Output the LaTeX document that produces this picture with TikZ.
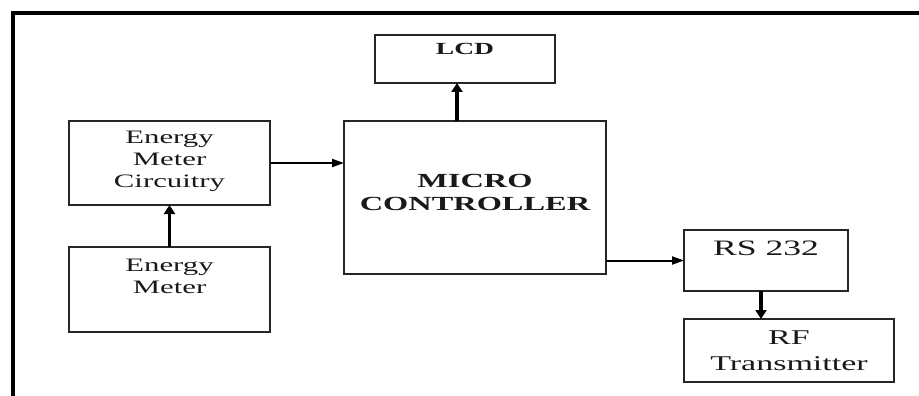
\documentclass[tikz,border=0pt]{standalone}
\usepackage{fontspec}
\setmainfont{Liberation Serif}[FakeStretch=1.62]
\usetikzlibrary{arrows.meta}
\tikzset{
  box/.style={draw=black!85, line width=1.8pt, inner sep=0pt, outer sep=0pt, anchor=north west},
  txt/.style={anchor=base, inner sep=0pt, outer sep=0pt, text=black!90},
  thickarr/.style={line width=3.5pt, -{Triangle[length=9pt,width=11pt]}},
  thinarr/.style={line width=2pt, -{Triangle[length=12pt,width=8pt]}},
  frame/.style={line width=4pt, line join=miter}
}
\begin{document}
\begin{tikzpicture}[x=1pt,y=-1pt]
\useasboundingbox (0,0) rectangle (919,396);
% outer frame
\draw[frame] (919,12.7) -- (13.3,12.7) -- (13.3,396);
% boxes
\node[box, minimum width=180pt, minimum height=48pt] (lcd) at (375,35) {};
\node[box, minimum width=201pt, minimum height=84pt] (emc) at (69,121) {};
\node[box, minimum width=201pt, minimum height=85pt] (em) at (69,247) {};
\node[box, minimum width=262pt, minimum height=153pt] (mc) at (344,121) {};
\node[box, minimum width=164pt, minimum height=61pt] (rs) at (684,230) {};
\node[box, minimum width=210pt, minimum height=63pt] (rf) at (684,319) {};
% texts
\node[txt, font=\bfseries\fontsize{17}{20}\selectfont] (tlcd) at (465,55) {LCD};
\node[txt, font=\fontsize{19}{22}\selectfont] (temc1) at (169.5,143.3) {Energy};
\node[txt, font=\fontsize{19}{22}\selectfont] (temc2) at (169.5,165.5) {Meter};
\node[txt, font=\fontsize{19}{22}\selectfont] (temc3) at (169.5,187.5) {Circuitry};
\node[txt, font=\fontsize{19}{22}\selectfont] (tem1) at (169.5,271.5) {Energy};
\node[txt, font=\fontsize{19}{22}\selectfont] (tem2) at (169.5,293) {Meter};
\node[txt, font=\bfseries\fontsize{20}{23}\selectfont] (tmc1) at (475,187.3) {MICRO};
\node[txt, font=\bfseries\fontsize{20}{23}\selectfont] (tmc2) at (475,210) {CONTROLLER};
\node[txt, font=\fontsize{22}{25}\selectfont] (trs) at (766,255.5) {RS 232};
\node[txt, font=\fontsize{21}{24}\selectfont] (trf1) at (789,344) {RF};
\node[txt, font=\fontsize{21}{24}\selectfont] (trf2) at (789,370) {Transmitter};
% connectors
\draw[thickarr] (em.north) -- (emc.south);
\draw[thinarr] (emc.east) -- (emc.east -| mc.west);
\draw[thickarr] ([xshift=-8pt]lcd.south |- mc.north) -- ([xshift=-8pt]lcd.south);
\draw[thinarr] (mc.east |- rs.west) -- (rs.west);
\draw[thickarr] ([xshift=-5pt]rs.south) -- ([xshift=-5pt]rs.south |- rf.north);
\end{tikzpicture}
\end{document}
